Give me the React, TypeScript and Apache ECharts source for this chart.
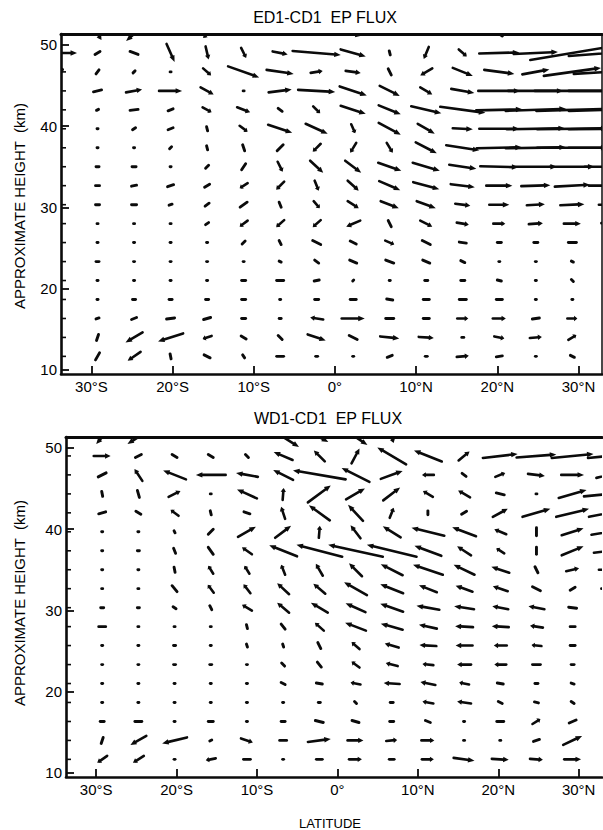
import { useEffect, useRef } from "react";
import * as echarts from "echarts";

// grid of the vectors: latitude columns (deg) and approximate heights (km), top row first
const LATITUDES = [-33.75, -29.25, -24.75, -20.25, -15.75, -11.25, -6.75, -2.25, 2.25, 6.75, 11.25, 15.75, 20.25, 24.75, 29.25, 33.75];
const HEIGHTS = [51.33, 49.0, 46.67, 44.33, 42.0, 39.67, 37.33, 35.0, 32.67, 30.33, 28.0, 25.67, 23.33, 21.0, 18.67, 16.33, 14.0, 11.67];
const LAT_TICKS = [-30, -20, -10, 0, 10, 20, 30];
const HEIGHT_TICKS = [10, 20, 30, 40, 50];
const PANEL_TITLES = ["ED1-CD1  EP FLUX", "WD1-CD1  EP FLUX"];
const X_NAME = "LATITUDE";
const Y_NAME = "APPROXIMATE HEIGHT  (km)";
const X_RANGE = [-33.75, 32.9];
const Y_RANGE = [9.5, 51.33];
// quiver scale: one flux unit spans 1/8.1 deg of latitude or 1/8.13 km of height
const ARROW_UNIT_LAT = 1 / 8.1;
const ARROW_UNIT_KM = 1 / 8.13;

// ED1-CD1 EP flux: horizontal (U) and vertical (W) components
const ED1_U = [
  [0, 8, -16, 6, -8, 0, 0, 0, 14, 0, 0, 0, 6, 0, 0, 0],
  [32, 5, 8, 8, 3, 5, 15, 48, 25, 1, -5, 8, 40, 44, 84, 80],
  [3, 3, 2, 1, 8, 31, 27, 12, 15, 3, -12, 20, 30, 27, 57, 70],
  [0, 8, 16, 23, 13, 1, 23, 37, 27, 20, 12, 23, 42, 55, 75, 80],
  [0, 2, 8, 5, 9, 13, 4, 7, 25, 22, 30, 45, 46, 60, 72, 80],
  [0, 1, 3, 5, 1, 8, 24, 22, 4, 22, 17, 20, 40, 58, 70, 80],
  [0, 1, 1, 2, 1, 2, -6, -8, -6, 6, 21, 33, 45, 60, 70, 80],
  [0, 3, 4, 1, 3, -4, 5, 13, 16, 23, 27, 27, 38, 42, 44, 48],
  [0, 4, 5, 6, 5, -8, -8, 4, 11, 21, 26, 24, 26, 29, 35, 40],
  [0, 4, 5, 3, 4, -7, 2, 6, 11, 18, 19, 15, 20, 18, 24, 20],
  [0, 1, 1, 1, 3, -8, -8, -8, -14, 3, 12, 12, 12, 14, 17, 15],
  [0, 1, 1, 1, 1, -3, 2, 8, 6, 9, 8, 7, 4, 4, 8, 5],
  [0, 3, 1, 1, 1, 1, 2, 4, 7, 8, 7, 4, 1, 1, 2, 0],
  [0, 1, 1, 1, 1, 4, 7, 5, 1, 1, 3, 4, 4, 1, 2, 10],
  [0, 1, 3, 3, 3, 4, 1, 4, 6, 6, 6, 7, 6, 1, 1, 3],
  [0, 3, 5, 8, 7, 4, 2, -13, 23, 8, 6, 11, 13, 7, 10, 4],
  [0, 2, -17, -25, -9, 5, 4, 18, 8, 19, 15, 2, 10, 12, 8, 5],
  [0, -4, -13, 1, 6, 2, 7, 2, 1, 5, 2, 12, 6, 1, 4, 0],
];
const ED1_W = [
  [0, -12, -14, 0, -8, 0, 0, 0, -4, 0, 0, 0, -4, 0, 0, 0],
  [0, 3, -3, -18, -13, -10, -3, -4, -7, -4, -12, -7, 1, 2, 14, 6],
  [5, 4, 2, 0, -7, -11, -4, 2, -2, -6, -7, -8, -4, 5, 8, 4],
  [0, 2, 3, 0, -7, 0, 3, -2, -9, -10, -7, -4, 0, 0, 0, 0],
  [0, 1, 1, 2, -5, -5, -3, -7, -8, -9, -7, -6, 1, 2, 2, 2],
  [0, 0, 2, 2, -4, -6, -8, -10, -9, -12, -10, -1, 0, 1, 1, 1],
  [0, 0, 0, 2, -4, -6, -6, -8, -10, -10, -11, -5, 1, 1, 0, 0],
  [0, 0, 0, 0, 3, -6, -10, -12, -12, -8, -8, -4, -1, 0, 0, 0],
  [0, 0, 1, 2, 3, -5, -8, -10, -10, -9, -7, -3, 0, 1, 2, 0],
  [0, 0, 0, 1, 3, -5, -5, -7, -7, -7, -7, -2, 0, 1, 1, 0],
  [0, 0, 0, 0, 2, -6, -7, -7, -6, -6, -6, -2, 0, 1, 0, -1],
  [0, 0, 0, 0, 0, -3, -4, -4, -3, -4, -4, -1, 0, 0, 0, 0],
  [0, 0, 0, 0, 0, 0, -1, -3, -3, -3, -3, -2, 0, 0, -1, 0],
  [0, 0, 0, 0, 0, 0, 0, 1, 1, 0, 0, 0, -1, 0, -2, 0],
  [0, 0, 0, 0, 0, 0, 0, 0, 0, -1, 0, 0, 0, 0, 0, 0],
  [0, 1, 2, 1, 2, 0, 0, 2, 0, 0, 0, 0, 0, 1, 0, 0],
  [0, 6, -10, -8, -3, -3, -4, -6, -4, -2, -1, 0, -2, 1, 5, 0],
  [0, -7, -9, -5, -3, -3, 0, 0, 0, 2, 0, 1, 1, 0, -2, 0],
];

// WD1-CD1 EP flux: horizontal (U) and vertical (W) components
const WD1_U = [
  [0, -12, -22, 0, 0, 0, 32, 18, 24, 4, 0, 0, 0, 0, 0, 0],
  [0, 17, 6, 5, 5, 3, -19, -11, 8, -29, -28, 11, 35, 40, 42, 42],
  [0, -8, -8, -23, -30, -22, -20, -53, -28, 22, -12, -4, 10, 17, 23, 25],
  [0, -1, 2, 12, 1, -20, 1, 23, 19, 17, -10, -12, -8, 1, 28, 50],
  [0, 7, 5, -8, 1, -6, -4, -21, -15, 4, 0, 5, 15, 28, 33, 40],
  [0, 1, 1, 1, -5, 18, 16, 1, -10, -18, -33, -24, -12, 0, 22, 35],
  [0, 1, 2, -2, -5, -10, -28, -46, -55, -50, -27, -14, -8, 0, 22, 30],
  [0, 1, 1, -1, -5, -5, -4, -7, -13, -22, -30, -21, -18, -3, 13, 20],
  [0, 1, 1, -5, -6, -7, -12, -12, -23, -23, -18, -17, -15, -8, 5, 15],
  [0, 3, 2, -3, -2, -10, -12, -17, -20, -23, -23, -20, -16, -16, -8, -3],
  [0, 7, 1, 1, 1, -1, -4, -9, -21, -22, -18, -18, -17, -13, -5, 0],
  [0, 1, 1, 2, 1, -1, -1, -3, -8, -14, -17, -17, -13, -10, -5, 0],
  [0, 1, 1, 2, 2, 1, -3, -4, -8, -12, -11, -14, -12, -8, -3, 0],
  [0, 1, 1, 1, 1, 1, -4, -6, -10, -16, -15, -10, -6, -3, -3, 4],
  [0, 1, 1, 1, 1, 1, 1, 2, -2, -3, -11, -14, -4, -4, -3, 0],
  [0, 4, -7, 1, 5, 1, 4, -8, -7, 4, -5, 1, 7, 8, 7, 0],
  [0, 2, -16, -25, 2, 12, 7, 23, 16, 11, 13, 1, 1, 6, 19, 10],
  [0, -10, -11, 1, -10, 7, 1, 6, 13, 5, 12, 21, 17, 13, 17, 8],
];
const WD1_W = [
  [0, -14, -14, 0, 0, 0, -20, -10, -16, -12, 0, 0, 0, 0, 0, 0],
  [0, 0, 3, -3, -3, -3, 8, 11, 15, 17, 11, 9, 4, 3, 4, 4],
  [0, -4, 12, 9, 0, 4, 10, 9, 14, 8, 0, 3, 4, -2, 0, 6],
  [0, 5, -7, 6, 0, 9, 12, 17, 11, 13, 6, 7, 2, 0, 8, 5],
  [0, 2, -3, 6, -4, 2, 12, 15, 16, 10, 4, 3, 8, 8, 8, 8],
  [0, 0, 0, -2, -5, 10, 12, 12, 13, 11, 8, 9, 5, 8, 7, 6],
  [0, 0, 0, 5, 7, 7, 11, 12, 12, 12, 10, 9, 5, 7, 9, 4],
  [0, 0, 0, 5, 8, 8, 10, 12, 13, 11, 10, 10, 6, 6, 3, 0],
  [0, 0, 0, 6, 8, 9, 11, 10, 13, 9, 7, 6, 5, 4, 3, 0],
  [0, 0, 0, 2, 4, 6, 10, 10, 9, 8, 4, 3, 3, 3, 1, 0],
  [0, 0, 0, 0, 0, 4, 5, 8, 8, 6, 4, 1, 1, 2, 0, 0],
  [0, 0, 0, 0, 0, 3, 3, 6, 7, 4, 1, 0, 0, 1, 0, 0],
  [0, 0, 0, 0, 0, 0, 3, 5, 6, 3, 1, 0, 0, 0, 0, 0],
  [0, 0, 0, 0, 0, 0, 2, 1, 2, 1, 3, 2, 1, 0, 1, 0],
  [0, 0, 0, 0, 0, 0, 0, 0, 2, 0, 2, 2, 2, 1, 2, 0],
  [0, 0, 0, 0, 0, 0, 0, 2, 2, 0, 2, 0, 0, 5, 3, 0],
  [0, 6, -9, -6, 1, -4, 0, 3, 0, 1, 0, 0, 0, 2, 9, 1],
  [0, -7, -7, 0, -2, 0, 0, 0, 0, 0, 0, -3, -1, -1, 0, 0],
];

const FONT = '"Liberation Sans", Arial, Helvetica, sans-serif';
const INK = "#0b0b0b";

function arrowData(U: number[][], W: number[][]) {
  const out: number[][] = [];
  HEIGHTS.forEach((z, r) => {
    LATITUDES.forEach((lat, c) => {
      out.push([lat, z, U[r][c], W[r][c]]);
    });
  });
  return out;
}

function renderArrow(params: any, api: any) {
  const lat = api.value(0);
  const z = api.value(1);
  const u = api.value(2);
  const w = api.value(3);
  if (u === 0 && w === 0) return null;
  const hu = (u * ARROW_UNIT_LAT) / 2;
  const hw = (w * ARROW_UNIT_KM) / 2;
  const a = api.coord([lat - hu, z - hw]);
  const b = api.coord([lat + hu, z + hw]);
  const dx = b[0] - a[0];
  const dy = b[1] - a[1];
  const len = Math.hypot(dx, dy);
  if (len < 9) {
    return {
      type: "line",
      shape: { x1: a[0], y1: a[1], x2: b[0], y2: b[1] },
      style: { stroke: INK, lineWidth: 2.9, lineCap: "round" },
    };
  }
  const ux = dx / len;
  const uy = dy / len;
  const h = Math.min(6.5, len * 0.33);
  const half = 2.7;
  const bx = b[0] - ux * h;
  const by = b[1] - uy * h;
  return {
    type: "group",
    children: [
      {
        type: "line",
        shape: { x1: a[0], y1: a[1], x2: bx + ux, y2: by + uy },
        style: { stroke: INK, lineWidth: 2.6, lineCap: "round" },
      },
      {
        type: "polygon",
        shape: {
          points: [
            [b[0], b[1]],
            [bx - uy * half, by + ux * half],
            [bx + uy * half, by - ux * half],
          ],
        },
        style: { fill: INK },
      },
    ],
  };
}

function renderRowTick(params: any, api: any) {
  const p = api.coord([api.value(0), api.value(1)]);
  return {
    type: "line",
    shape: { x1: p[0], y1: p[1], x2: p[0] + 5, y2: p[1] },
    style: { stroke: INK, lineWidth: 1.6 },
  };
}

const fmtLat = (v: number) => (v === 0 ? "0°" : v < 0 ? `${-v}°S` : `${v}°N`);

function mainX(gridIndex: number) {
  return {
    type: "value",
    gridIndex,
    min: X_RANGE[0],
    max: X_RANGE[1],
    position: "bottom",
    axisLine: { onZero: false, lineStyle: { color: INK, width: 2.6 } },
    axisTick: { inside: true, length: 8, customValues: LAT_TICKS, lineStyle: { color: INK, width: 1.8 } },
    axisLabel: { customValues: LAT_TICKS, formatter: fmtLat, color: "#000", fontSize: 15, fontFamily: FONT, margin: 5 },
    splitLine: { show: false },
  };
}

function borderX(gridIndex: number) {
  return {
    type: "value",
    gridIndex,
    min: X_RANGE[0],
    max: X_RANGE[1],
    position: "top",
    axisLine: { onZero: false, lineStyle: { color: INK, width: 3 } },
    axisTick: { show: false },
    axisLabel: { show: false },
    splitLine: { show: false },
  };
}

function mainY(gridIndex: number) {
  return {
    type: "value",
    gridIndex,
    min: Y_RANGE[0],
    max: Y_RANGE[1],
    position: "left",
    axisLine: { onZero: false, lineStyle: { color: INK, width: 2.6 } },
    axisTick: { inside: true, length: 8, customValues: HEIGHT_TICKS, lineStyle: { color: INK, width: 1.8 } },
    axisLabel: { customValues: HEIGHT_TICKS, color: "#000", fontSize: 15, fontFamily: FONT, margin: 4 },
    splitLine: { show: false },
  };
}

export default function App() {
  const ref = useRef<HTMLDivElement>(null);
  useEffect(() => {
    if (!ref.current) return;
    const chart = echarts.init(ref.current, undefined, { renderer: "svg" });
    const rowTicks = HEIGHTS.map((h) => [X_RANGE[0], h]);
    const option: any = {
      animation: false,
      backgroundColor: "#ffffff",
      textStyle: { fontFamily: FONT },
      grid: [
        { left: 61, top: 34, width: 541, height: 340 },
        { left: 66, top: 437, width: 536, height: 340 },
      ],
      xAxis: [mainX(0), borderX(0), mainX(1), borderX(1)],
      yAxis: [
        mainY(0),
        {
          type: "value",
          gridIndex: 0,
          min: Y_RANGE[0],
          max: Y_RANGE[1],
          position: "right",
          axisLine: { onZero: false, lineStyle: { color: INK, width: 1.5 } },
          axisTick: { show: false },
          axisLabel: { show: false },
          splitLine: { show: false },
        },
        mainY(1),
      ],
      series: [
        {
          type: "custom",
          xAxisIndex: 0,
          yAxisIndex: 0,
          clip: true,
          encode: { x: 0, y: 1 },
          renderItem: renderArrow,
          data: arrowData(ED1_U, ED1_W),
          silent: true,
        },
        {
          type: "custom",
          xAxisIndex: 2,
          yAxisIndex: 2,
          clip: true,
          encode: { x: 0, y: 1 },
          renderItem: renderArrow,
          data: arrowData(WD1_U, WD1_W),
          silent: true,
        },
        {
          type: "custom",
          xAxisIndex: 0,
          yAxisIndex: 0,
          encode: { x: 0, y: 1 },
          renderItem: renderRowTick,
          data: rowTicks,
          silent: true,
        },
        {
          type: "custom",
          xAxisIndex: 2,
          yAxisIndex: 2,
          encode: { x: 0, y: 1 },
          renderItem: renderRowTick,
          data: rowTicks,
          silent: true,
        },
      ],
      graphic: [
        {
          type: "text",
          x: 325,
          y: 17,
          style: { text: PANEL_TITLES[0], font: `16px ${FONT}`, fill: "#000", textAlign: "center", textVerticalAlign: "middle" },
        },
        {
          type: "text",
          x: 328,
          y: 418,
          style: { text: PANEL_TITLES[1], font: `16px ${FONT}`, fill: "#000", textAlign: "center", textVerticalAlign: "middle" },
        },
        {
          type: "text",
          x: 19,
          y: 206,
          rotation: Math.PI / 2,
          style: { text: Y_NAME, font: `15px ${FONT}`, fill: "#000", textAlign: "center", textVerticalAlign: "middle" },
        },
        {
          type: "text",
          x: 19,
          y: 603,
          rotation: Math.PI / 2,
          style: { text: Y_NAME, font: `15px ${FONT}`, fill: "#000", textAlign: "center", textVerticalAlign: "middle" },
        },
        {
          type: "text",
          x: 330,
          y: 823,
          style: { text: X_NAME, font: `13px ${FONT}`, fill: "#000", textAlign: "center", textVerticalAlign: "middle" },
        },
      ],
    };
    chart.setOption(option);
    return () => chart.dispose();
  }, []);
  return (
    <div
      ref={ref}
      style={{ position: "absolute", left: 0, top: 0, width: 603, height: 830, background: "#fff" }}
    />
  );
}
